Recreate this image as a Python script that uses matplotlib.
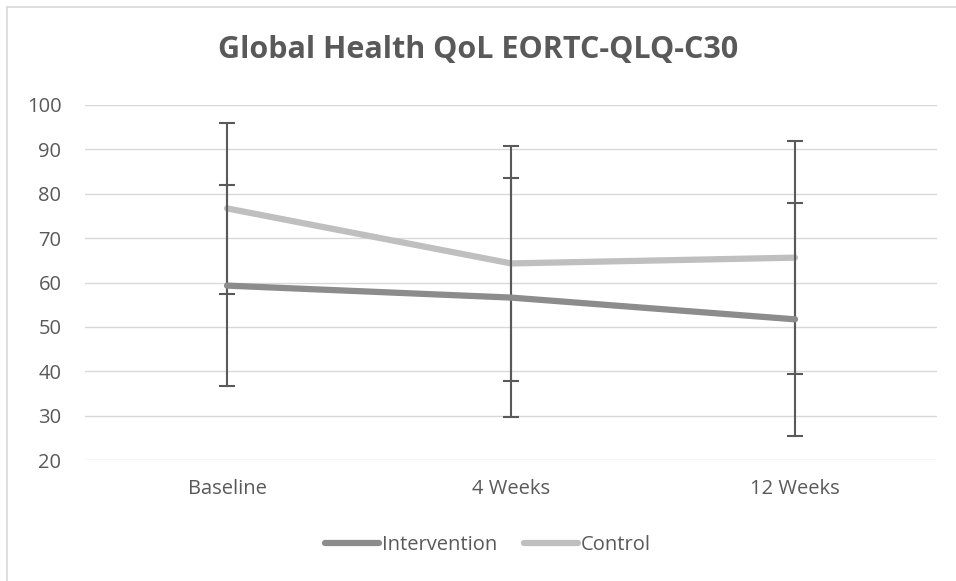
import matplotlib.pyplot as plt
from matplotlib.lines import Line2D

categories = ["Baseline", "4 Weeks", "12 Weeks"]
intervention = [59.3, 56.6, 51.7]
intervention_err = [22.6, 27.0, 26.3]
control = [76.7, 64.3, 65.6]
control_err = [19.3, 26.4, 26.2]
yticks = [20, 30, 40, 50, 60, 70, 80, 90, 100]

plt.rcParams['font.family'] = ['Open Sans', 'DejaVu Sans']

fig = plt.figure(figsize=(9.56, 5.81), dpi=100)
ax = fig.add_axes([85 / 956, 1 - 460 / 581, 852 / 956, 355 / 581])

x = range(len(categories))
ax.errorbar(x, intervention, yerr=intervention_err, color="#8c8c8c", lw=4.5,
            ecolor="#595959", elinewidth=1.5, capsize=6, capthick=1.5,
            label="Intervention", zorder=3, solid_capstyle="round")
ax.errorbar(x, control, yerr=control_err, color="#bfbfbf", lw=4.5,
            ecolor="#595959", elinewidth=1.5, capsize=6, capthick=1.5,
            label="Control", zorder=2, solid_capstyle="round")

ax.set_xlim(-0.5, 2.5)
ax.set_ylim(20, 100)
ax.set_yticks(yticks)
ax.set_xticks(list(x))
ax.set_xticklabels(categories)
ax.yaxis.grid(True, color="#d9d9d9", lw=1)
ax.set_axisbelow(True)
for s in ax.spines.values():
    s.set_visible(False)
ax.tick_params(length=0, colors="#595959", labelsize=14.5)
ax.tick_params(axis="x", pad=14)
ax.tick_params(axis="y", pad=17)

fig.text(478 / 956, 1 - 50 / 581, "Global Health QoL EORTC-QLQ-C30", ha="center", va="center",
         fontsize=22, fontweight="bold", color="#595959")

handles, labels = ax.get_legend_handles_labels()
handles = [h[0] for h in handles]
fig.legend(handles, labels, loc="center", bbox_to_anchor=(488 / 956, 1 - 545 / 581), ncol=2,
           frameon=False, fontsize=14.5, labelcolor="#595959", handlelength=2.7,
           handletextpad=0.15, columnspacing=1.3)

# chart border: only the left and top edges are inside the image
fig.add_artist(Line2D([7 / 956, 7 / 956], [0, 1 - 7 / 581], transform=fig.transFigure,
                      color="#d9d9d9", lw=1.2))
fig.add_artist(Line2D([7 / 956, 1], [1 - 7 / 581, 1 - 7 / 581], transform=fig.transFigure,
                      color="#d9d9d9", lw=1.2))

fig.savefig("out.png", dpi=100)
